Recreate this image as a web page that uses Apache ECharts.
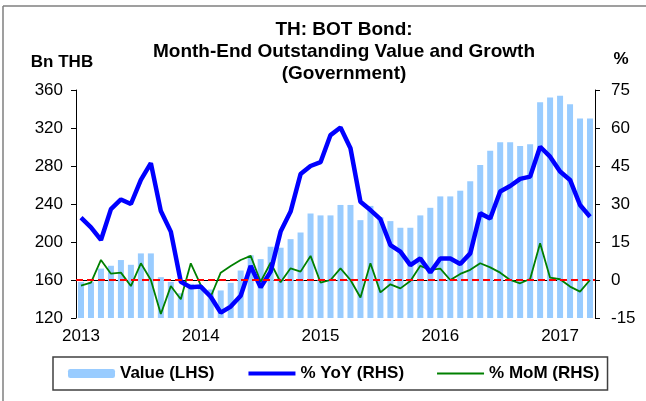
<!DOCTYPE html>
<html>
<head>
<meta charset="utf-8">
<script src="https://cdn.jsdelivr.net/npm/echarts@6/dist/echarts.min.js"></script>
<style>
  html, body { margin: 0; padding: 0; background: #fff; }
  #chart { width: 646px; height: 401px; }
</style>
</head>
<body>
<div id="chart"></div>
<script>
// months Jan 2013 .. Apr 2017
var months = [
  '2013-01','2013-02','2013-03','2013-04','2013-05','2013-06','2013-07','2013-08','2013-09','2013-10','2013-11','2013-12',
  '2014-01','2014-02','2014-03','2014-04','2014-05','2014-06','2014-07','2014-08','2014-09','2014-10','2014-11','2014-12',
  '2015-01','2015-02','2015-03','2015-04','2015-05','2015-06','2015-07','2015-08','2015-09','2015-10','2015-11','2015-12',
  '2016-01','2016-02','2016-03','2016-04','2016-05','2016-06','2016-07','2016-08','2016-09','2016-10','2016-11','2016-12',
  '2017-01','2017-02','2017-03','2017-04'
];
// outstanding value, Bn THB (LHS)
var valueLHS = [
  158, 158, 172, 175, 181, 176, 188, 188, 163, 158, 146, 156,
  153, 150, 149, 157, 170, 186, 182, 195, 194, 203, 210, 230,
  228, 228, 239, 239, 223, 238, 226, 222, 215, 215, 228, 236,
  248, 248, 254, 264, 281, 296, 305, 305, 301, 303, 347, 352,
  354, 345, 330, 330
];
// % YoY (RHS)
var yoy = [
  24.6, 20.8, 15.8, 28, 31.8, 30, 39.5, 46.1, 27.2, 19.1, -0.7, -2.9,
  -2.6, -6.6, -12.9, -10.5, -6.2, 5.5, -2.9, 3.3, 19.1, 27, 41.8, 45,
  46.5, 57.2, 60.2, 52, 30.9, 27.6, 24, 13.8, 11.2, 5.9, 8.5, 3,
  8.5, 8.5, 6.3, 10.5, 26.3, 24.3, 34.9, 37.1, 39.9, 40.8, 52.6, 48.7,
  42.8, 39.5, 29.6, 25
];
// % MoM (RHS)
var mom = [
  -2.2, -1, 7.9, 2.5, 2.9, -2.4, 6.6, 0, -13.4, -2.4, -7.6, 6.6,
  -2, -6.6, 2.9, 5.5, 7.9, 9.5, -0.7, 6.8, -0.9, 4.6, 3.3, 9.5,
  -1, 0, 4.6, 0, -6.9, 6.6, -4.9, -1.7, -3.3, -0.4, 5.6, 4,
  4.5, 0, 2.4, 4, 6.6, 5, 2.9, 0, -1.3, 0.4, 14.5, 0.9,
  0.3, -2.6, -4.6, 0
];
var leftTicks = { min: 120, max: 360, step: 40 };
var rightTicks = { min: -15, max: 75, step: 15 };

var font = "'Liberation Sans', Arial, sans-serif";
var chart = echarts.init(document.getElementById('chart'));

// hide the marker that echarts puts on line legend icons
var noMarker = { color: 'rgba(0,0,0,0)', borderColor: 'rgba(0,0,0,0)', borderWidth: 0 };

var option = {
  backgroundColor: '#fff',
  animation: false,
  textStyle: { fontFamily: font, color: '#000' },
  title: {
    text: 'TH: BOT Bond:\nMonth-End Outstanding Value and Growth\n(Government)',
    left: 339,
    top: 14,
    textAlign: 'center',
    textStyle: { fontFamily: font, fontSize: 19, fontWeight: 'bold', color: '#000', lineHeight: 22 }
  },
  graphic: [
    { type: 'line', shape: { x1: 3, y1: 6, x2: 646, y2: 6 }, style: { stroke: '#7f7f7f', lineWidth: 1.5 } },
    { type: 'line', shape: { x1: 3, y1: 6, x2: 3, y2: 401 }, style: { stroke: '#7f7f7f', lineWidth: 1.5 } }
  ],
  legend: {
    left: 53,
    top: 357,
    itemWidth: 47,
    itemHeight: 9,
    itemGap: 32,
    padding: [8, 8, 8, 15],
    borderColor: '#404040',
    borderWidth: 1.5,
    textStyle: { fontFamily: font, fontSize: 17, fontWeight: 'bold', color: '#000' },
    data: [
      { name: 'Value (LHS)' },
      { name: '% YoY (RHS)', itemStyle: noMarker, lineStyle: { color: '#0000ff', width: 4 } },
      { name: '% MoM (RHS)', itemStyle: noMarker, lineStyle: { color: '#008000', width: 2 } }
    ]
  },
  grid: { left: 76, right: 51, top: 90, bottom: 83 },
  xAxis: {
    type: 'category',
    data: months,
    boundaryGap: true,
    axisLine: { lineStyle: { color: '#000', width: 1 } },
    axisTick: {
      length: 5,
      alignWithLabel: false,
      interval: function (i) { return i % 12 === 0; },
      lineStyle: { color: '#000' }
    },
    axisLabel: {
      interval: function (i) { return i % 12 === 0; },
      formatter: function (v) { return v.slice(0, 4); },
      fontSize: 17, color: '#000', margin: 10
    },
    splitLine: { show: false }
  },
  yAxis: [
    {
      type: 'value',
      min: leftTicks.min, max: leftTicks.max, interval: leftTicks.step,
      name: 'Bn THB',
      nameLocation: 'end',
      nameGap: 19,
      nameTextStyle: { fontFamily: font, fontSize: 17, fontWeight: 'bold', color: '#000', align: 'center', padding: [0, 28, 0, 0] },
      axisLine: { show: true, lineStyle: { color: '#000', width: 1 } },
      axisTick: { show: true, length: 5, lineStyle: { color: '#000' } },
      axisLabel: { fontSize: 17, color: '#000', margin: 13 },
      splitLine: { show: false }
    },
    {
      type: 'value',
      position: 'right',
      min: rightTicks.min, max: rightTicks.max, interval: rightTicks.step,
      name: '%',
      nameLocation: 'end',
      nameGap: 22,
      nameTextStyle: { fontFamily: font, fontSize: 17, fontWeight: 'bold', color: '#000', align: 'center', padding: [0, 0, 0, 52] },
      axisLine: { show: true, lineStyle: { color: '#000', width: 1 } },
      axisTick: { show: true, length: 5, lineStyle: { color: '#000' } },
      axisLabel: { fontSize: 17, color: '#000', margin: 16 },
      splitLine: { show: false }
    }
  ],
  series: [
    {
      name: 'Value (LHS)',
      type: 'bar',
      yAxisIndex: 0,
      data: valueLHS,
      barWidth: 6,
      itemStyle: { color: '#99ccff' }
    },
    {
      name: '% YoY (RHS)',
      type: 'line',
      yAxisIndex: 1,
      data: yoy,
      symbol: 'none',
      z: 4,
      lineStyle: { color: '#0000ff', width: 4.5 },
      itemStyle: { color: '#0000ff' }
    },
    {
      name: '% MoM (RHS)',
      type: 'line',
      yAxisIndex: 1,
      data: mom,
      symbol: 'none',
      z: 3,
      lineStyle: { color: '#008000', width: 1.8 },
      itemStyle: { color: '#008000' },
      markLine: {
        silent: true,
        symbol: 'none',
        label: { show: false },
        lineStyle: { color: '#ff0000', type: [7, 4], width: 2 },
        data: [{ yAxis: 0 }]
      }
    }
  ]
};
chart.setOption(option);
</script>
</body>
</html>
